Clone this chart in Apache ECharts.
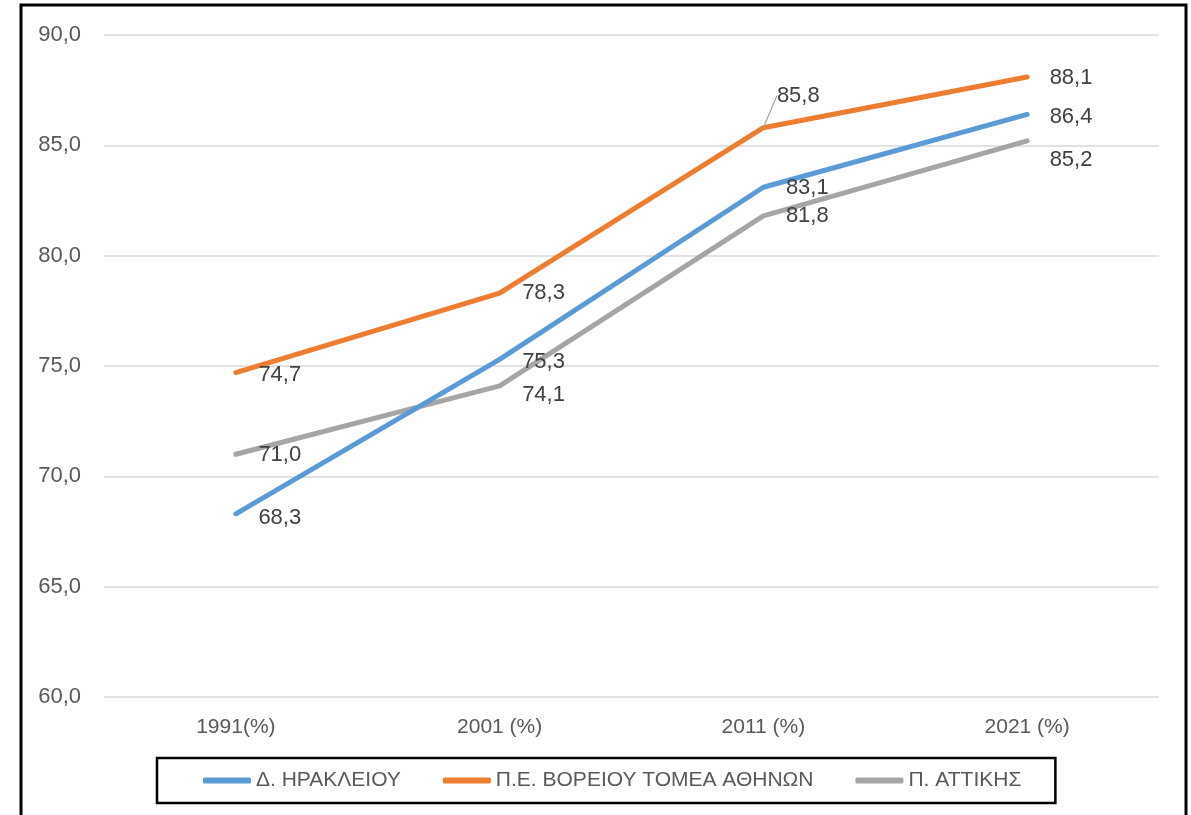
<!DOCTYPE html>
<html>
<head>
<meta charset="utf-8">
<title>Chart</title>
<script src="https://cdn.jsdelivr.net/npm/echarts@6/dist/echarts.min.js"></script>
<style>
  html, body { margin: 0; padding: 0; background: #fff; }
  #main { width: 1191px; height: 815px; }
</style>
</head>
<body>
<div id="main"></div>
<script>
// data
const categories = ['1991(%)', '2001 (%)', '2011 (%)', '2021 (%)']
const seriesNames = ['Δ. ΗΡΑΚΛΕΙΟΥ', 'Π.Ε. ΒΟΡΕΙΟΥ ΤΟΜΕΑ ΑΘΗΝΩΝ', 'Π. ΑΤΤΙΚΗΣ']
const heraklionValues = [68.3, 75.3, 83.1, 86.4]
const northAthensValues = [74.7, 78.3, 85.8, 88.1]
const atticaValues = [71.0, 74.1, 81.8, 85.2]
const yTicks = [60, 65, 70, 75, 80, 85, 90]

const colors = ['#5B9BD5', '#ED7D31', '#A5A5A5']
const font = 'Liberation Sans, Arial, sans-serif'

// label nudges [dx, dy] per series / point (style only)
const labelShift = [
  [[0, 4], [0, 3], [0, 1], [0, 2]],
  [[0, 2], [0, 0], [-9, -32], [0, 1]],
  [[0, 1], [0, 9], [0, 0], [0, 19]]
]

const fmt = v => v.toFixed(1).replace('.', ',')

function makeSeries (idx, values) {
  return {
    name: seriesNames[idx],
    type: 'line',
    data: values.map((v, i) => {
      const item = { value: v }
      if (idx === 1 && i === 2) {
        item.labelLine = { show: true, lineStyle: { color: '#A5A5A5', width: 1.2 } }
      }
      return item
    }),
    color: colors[idx],
    symbol: 'circle',
    symbolSize: 1,
    lineStyle: { width: 5, color: colors[idx], cap: 'round', join: 'round' },
    label: {
      show: true,
      position: 'right',
      distance: 22,
      color: '#404040',
      fontSize: 22,
      fontFamily: font,
      formatter: p => fmt(p.value)
    },
    labelLine: { show: false },
    labelLayout: function (params) {
      const s = labelShift[idx][params.dataIndex]
      const out = { dx: s[0], dy: s[1] }
      if (idx === 1 && params.dataIndex === 2) {
        // leader line from point to the bottom middle of the moved label
        const r = params.rect
        const l = params.labelRect
        const ax = r.x + r.width / 2
        const ay = r.y + r.height / 2
        out.labelLinePoints = [
          [ax, ay],
          [l.x + s[0] + l.width / 2, l.y + s[1] + l.height - 2]
        ]
      }
      return out
    },
    emphasis: { disabled: true },
    z: 3 - idx
  }
}

const chart = echarts.init(document.getElementById('main'), null, { renderer: 'canvas' })

const option = {
  animation: false,
  backgroundColor: '#fff',
  graphic: [{
    type: 'rect',
    shape: { x: 21, y: 5, width: 1165, height: 900 },
    style: { fill: 'none', stroke: '#000', lineWidth: 3 },
    silent: true
  }],
  grid: { left: 104, right: 32, top: 35, bottom: 118 },
  legend: {
    left: 157,
    top: 758,
    padding: [12, 34, 12, 46],
    borderColor: '#000',
    borderWidth: 2.5,
    itemGap: 42,
    itemWidth: 48,
    itemHeight: 6,
    icon: 'roundRect',
    textStyle: { color: '#595959', fontSize: 21, fontFamily: font },
    data: seriesNames
  },
  xAxis: {
    type: 'category',
    data: categories,
    axisLine: { show: false },
    axisTick: { show: false },
    axisLabel: { color: '#595959', fontSize: 21, fontFamily: font, margin: 20 }
  },
  yAxis: {
    type: 'value',
    min: yTicks[0],
    max: yTicks[yTicks.length - 1],
    interval: 5,
    axisLine: { show: false },
    axisTick: { show: false },
    splitLine: { lineStyle: { color: '#D9D9D9', width: 1.5 } },
    axisLabel: {
      color: '#595959',
      fontSize: 22,
      fontFamily: font,
      margin: 23,
      formatter: v => fmt(v)
    }
  },
  series: [
    makeSeries(0, heraklionValues),
    makeSeries(1, northAthensValues),
    makeSeries(2, atticaValues)
  ]
}

chart.setOption(option)
</script>
</body>
</html>
